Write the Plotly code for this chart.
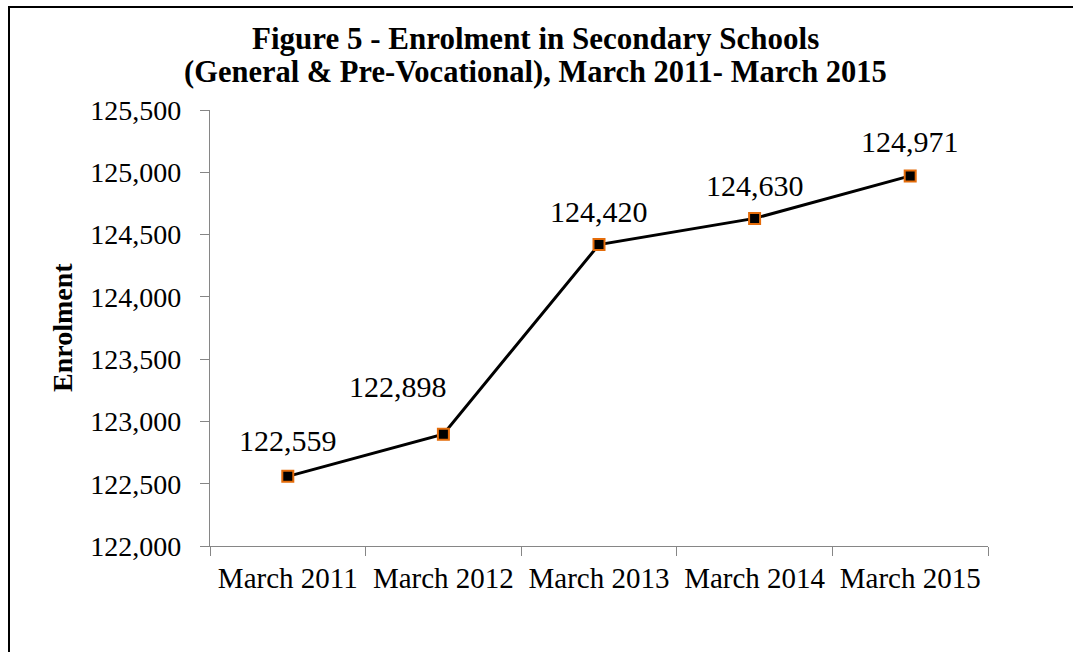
import plotly.graph_objects as go

categories = ["March 2011", "March 2012", "March 2013", "March 2014", "March 2015"]
enrolment = [122559, 122898, 124420, 124630, 124971]
y_ticks = [122000, 122500, 123000, 123500, 124000, 124500, 125000, 125500]

# label offsets (pixels) for the data labels
label_xshift = [0, -45, 0, 0, 0]
label_yshift = [36, 48, 33, 33, 34]

FONT = "Liberation Serif"
W, H = 1073, 652
L, R, T, B = 210, 85, 110, 106
pw, ph = W - L - R, H - T - B

def px_to_paper_x(px):
    return (px - L) / pw

def px_to_paper_y(py):
    return (H - B - py) / ph

fig = go.Figure()
fig.add_trace(go.Scatter(
    x=categories, y=enrolment, mode="lines+markers",
    line=dict(color="black", width=3),
    marker=dict(symbol="square", size=11, color="black",
                line=dict(color="#E46C0A", width=2)),
    showlegend=False, hoverinfo="skip",
))

annotations = []
for c, v, xs, ys in zip(categories, enrolment, label_xshift, label_yshift):
    annotations.append(dict(
        x=c, y=v, text=f"{v:,}", showarrow=False,
        xshift=xs, yshift=ys, xanchor="center", yanchor="middle",
        font=dict(family=FONT, size=30, color="black"),
    ))

annotations += [
    dict(xref="paper", yref="paper", x=px_to_paper_x(535), y=px_to_paper_y(38),
         text="<b>Figure 5 - Enrolment in Secondary Schools</b>", showarrow=False,
         xanchor="center", yanchor="middle",
         font=dict(family=FONT, size=31, color="black")),
    dict(xref="paper", yref="paper", x=px_to_paper_x(535), y=px_to_paper_y(72),
         text="<b>(General & Pre-Vocational), March 2011- March 2015</b>", showarrow=False,
         xanchor="center", yanchor="middle",
         font=dict(family=FONT, size=30.5, color="black")),
    dict(xref="paper", yref="paper", x=px_to_paper_x(62), y=px_to_paper_y(328),
         text="<b>Enrolment</b>", showarrow=False, textangle=-90,
         xanchor="center", yanchor="middle",
         font=dict(family=FONT, size=28, color="black")),
]

fig.update_layout(
    width=W, height=H,
    margin=dict(l=L, r=R, t=T, b=B, autoexpand=False),
    paper_bgcolor="white", plot_bgcolor="white",
    annotations=annotations,
    shapes=[dict(type="rect", xref="paper", yref="paper",
                 x0=px_to_paper_x(9), x1=px_to_paper_x(1200),
                 y0=px_to_paper_y(800), y1=px_to_paper_y(7),
                 line=dict(color="black", width=2), fillcolor="rgba(0,0,0,0)",
                 layer="below")],
)

fig.update_xaxes(
    type="category", range=[-0.5, len(categories) - 0.5],
    showline=True, linecolor="#868686", linewidth=1.2,
    ticks="outside", tickson="boundaries", ticklen=9, tickcolor="#868686",
    tickwidth=1.2, showgrid=False, zeroline=False, ticklabelstandoff=6,
    tickfont=dict(family=FONT, size=29, color="black"),
)
fig.update_yaxes(
    range=[122000, 125500], tickvals=y_ticks, tickformat=",",
    showline=True, linecolor="#868686", linewidth=1.2,
    ticks="outside", ticklen=9, tickcolor="#868686", tickwidth=1.2,
    showgrid=False, zeroline=False, ticklabelstandoff=13,
    tickfont=dict(family=FONT, size=28, color="black"),
)

fig.write_html("out.html", config={"displayModeBar": False},
               post_script="document.body.style.margin='0px';")
